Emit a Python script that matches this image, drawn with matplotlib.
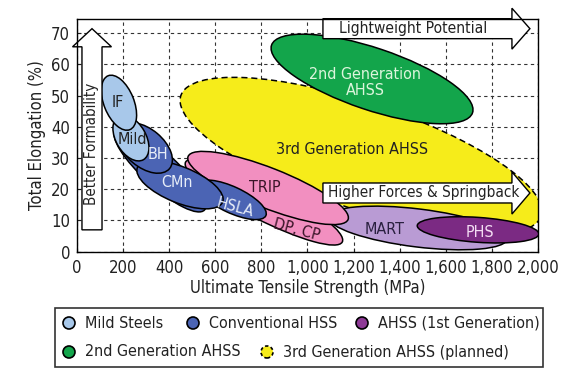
import numpy as np
import matplotlib
matplotlib.use("Agg")
import matplotlib.pyplot as plt
from matplotlib.patches import Ellipse, FancyArrow, Rectangle
from matplotlib.transforms import Affine2D

plt.rcParams['font.family'] = ['DejaVu Sans']
plt.rcParams['font.stretch'] = 'condensed'

# steel families, drawn bottom to top
# centre (MPa, %), length / thickness in MPa-equivalent units, tilt in degrees
families = ['3rd Gen', '2nd Gen', 'MART', 'PHS', 'DP, CP', 'TRIP',
            'HSS band', 'HSLA', 'CMn', 'BH', 'Mild', 'IF']
center_uts = [1232, 1280, 1479, 1740, 811, 829, 360, 672, 447, 295, 234, 182]
center_el = [30.7, 55.3, 7.6, 7.0, 15.9, 20.4, 26.2, 16.6, 21.4, 33.2, 36.4, 47.7]
length = [1648, 920, 781, 529, 763, 746, 520, 325, 399, 278, 217, 252]
thickness = [460, 269, 165, 108, 156, 174, 148, 113, 156, 165, 130, 130]
tilt = [-18.5, -18.6, -7, -4, -27, -21.5, -42, -25, -22, -40, 120, 112]
fills = ['#f6ec1a', '#13a54b', '#b99bd4', '#7b2a83', '#f28fc0', '#f28fc0',
         '#4b64b4', '#4b64b4', '#4b64b4', '#4b64b4', '#a8c8ea', '#a8c8ea']

# labels inside the shapes
label_text = ['IF', 'Mild', 'BH', 'CMn', 'HSLA', 'TRIP', 'DP, CP', 'MART', 'PHS',
              '2nd Generation\nAHSS', '3rd Generation AHSS']
label_x = [178, 239, 351, 434, 685, 816, 954, 1336, 1748, 1250, 1193]
label_y = [47.7, 35.8, 31.0, 22.0, 14.0, 20.4, 7.0, 7.0, 6.3, 54.2, 32.6]
label_color = ['#222222', '#222222', '#e8eef8', '#e8eef8', '#e8eef8', '#3a1428',
               '#3a1428', '#2a2040', '#f3dcf3', '#dcf5dc', '#222222']
label_rot = [0, 0, 0, 0, -15, 0, -15, 0, 0, 0, 0]

x_ticks = [0, 200, 400, 600, 800, 1000, 1200, 1400, 1600, 1800, 2000]
x_ticklabels = ['0', '200', '400', '600', '800', '1,000', '1,200', '1,400',
                '1,600', '1,800', '2,000']
y_ticks = [0, 10, 20, 30, 40, 50, 60, 70]

legend_labels = ['Mild Steels', 'Conventional HSS', 'AHSS (1st Generation)',
                 '2nd Generation AHSS', '3rd Generation AHSS (planned)']
legend_colors = ['#a8c8ea', '#4b64b4', '#8e3a96', '#13a54b', '#f6ec1a']

fig = plt.figure(figsize=(5.76, 3.8), dpi=100)
ax = fig.add_axes([0.1337, 0.3376, 0.8003, 0.6124])
ax.set_xlim(0, 2000)
ax.set_ylim(0, 74.5)

# visual aspect: MPa per % on screen
W = fig.get_figwidth() * fig.dpi * 0.8003
H = fig.get_figheight() * fig.dpi * 0.6124
K = (H / 74.5) / (W / 2000)
squash = Affine2D().scale(1, 1 / K) + ax.transData

for i, name in enumerate(families):
    dashed = name == '3rd Gen'
    e = Ellipse((center_uts[i], center_el[i] * K), length[i], thickness[i],
                angle=tilt[i], facecolor=fills[i], edgecolor='black',
                linewidth=1.1, linestyle=(0, (4, 2.5)) if dashed else '-',
                transform=squash, zorder=2 + i * 0.1)
    ax.add_patch(e)

for t, x, y, c, r in zip(label_text, label_x, label_y, label_color, label_rot):
    ax.text(x, y, t, color=c, fontsize=11.5, ha='center', va='center',
            rotation=r, linespacing=1.1, zorder=5)

# arrows
arr_kw = dict(length_includes_head=True, facecolor='white', edgecolor='black',
              linewidth=1.0, zorder=6, clip_on=False)
ax.add_patch(FancyArrow(65, 7.0, 0, 64.4, width=87, head_width=169,
                        head_length=5.8, **arr_kw))
ax.text(65, 34.5, 'Better Formability', rotation=90, ha='center', va='center',
        fontsize=10.8, color='#222222', zorder=7)
ax.add_patch(FancyArrow(1067, 71.4, 898, 0, width=6.4, head_width=13.1,
                        head_length=78, **arr_kw))
ax.text(1458, 71.4, 'Lightweight Potential', ha='center', va='center',
        fontsize=11.2, color='#222222', zorder=7)
ax.add_patch(FancyArrow(1067, 18.8, 898, 0, width=6.4, head_width=13.5,
                        head_length=78, **arr_kw))
ax.text(1503, 18.8, 'Higher Forces & Springback', ha='center', va='center',
        fontsize=11.0, color='#222222', zorder=7)

ax.set_xticks(x_ticks)
ax.set_xticklabels(x_ticklabels)
ax.set_yticks(y_ticks)
ax.tick_params(direction='in', length=3, labelsize=12, colors='#222222', pad=5)
ax.grid(True, color='#333333', linestyle=(0, (3, 3)), linewidth=0.8)
ax.set_axisbelow(True)
for s in ax.spines.values():
    s.set_linewidth(1.0)
    s.set_zorder(8)
ax.set_xlabel('Ultimate Tensile Strength (MPa)', fontsize=12, color='#222222',
              labelpad=2)
ax.set_ylabel('Total Elongation (%)', fontsize=12, color='#222222', labelpad=4)

# legend box drawn by hand (two rows with different column stops)
fig.patches.append(Rectangle((55 / 576, 13 / 380), 488 / 576, 59 / 380,
                             transform=fig.transFigure, facecolor='white',
                             edgecolor='#333333', linewidth=1.2))
leg_pos = [(69, 323), (193, 323), (362, 323), (69, 352), (267, 352)]
for (px, py), lab, col in zip(leg_pos, legend_labels, legend_colors):
    dashed = lab.startswith('3rd')
    fig.patches.append(Ellipse((px / 576, 1 - py / 380), 12 / 576, 12 / 380,
                               transform=fig.transFigure, facecolor=col,
                               edgecolor='black', linewidth=1.2,
                               linestyle=(0, (2, 1.5)) if dashed else '-'))
    fig.text((px + 16) / 576, 1 - py / 380, lab, fontsize=11.5, color='#222222',
             ha='left', va='center')

fig.savefig('out.png', dpi=100)
